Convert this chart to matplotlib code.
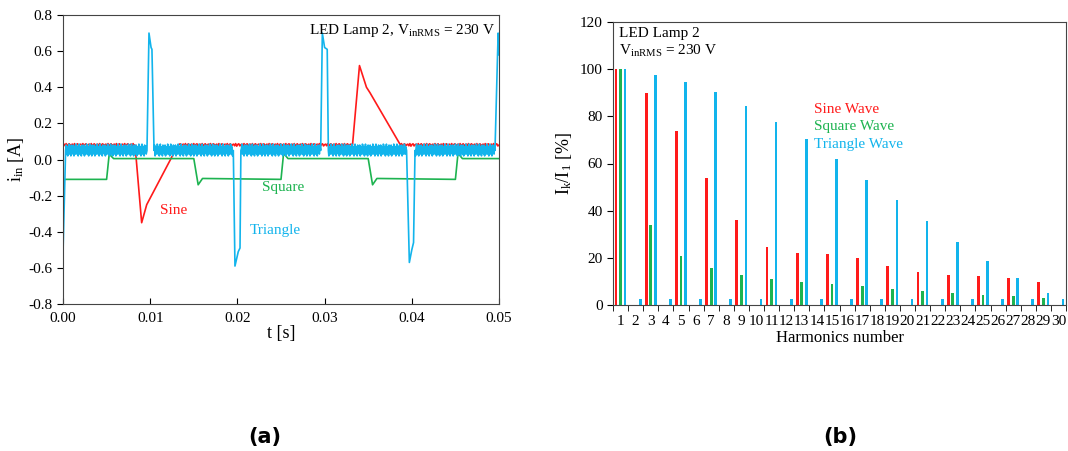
import numpy as np
import matplotlib
matplotlib.use("Agg")
import matplotlib.pyplot as plt

plt.rcParams['font.family'] = ['Liberation Serif', 'DejaVu Serif']
plt.rcParams['mathtext.fontset'] = 'custom'
plt.rcParams['mathtext.rm'] = 'Liberation Serif'
plt.rcParams['mathtext.it'] = 'Liberation Serif'

RED = '#ff1a1a'
GREEN = '#1db350'
BLUE = '#12b4ec'

# --- (a) input current waveforms, breakpoints ---
sine_t = [0.0, 0.00826, 0.00902, 0.0096, 0.0132, 0.0332, 0.0340, 0.0348, 0.0352, 0.0387, 0.05]
sine_i = [0.08, 0.08, -0.35, -0.25, 0.08, 0.08, 0.52, 0.40, 0.37, 0.08, 0.08]

square_t = [0.0, 0.0050, 0.0053, 0.0058, 0.0150, 0.0155, 0.0160, 0.0250, 0.0253, 0.0258,
            0.0350, 0.0355, 0.0360, 0.0450, 0.0453, 0.0458, 0.05]
square_i = [-0.11, -0.11, 0.03, 0.005, 0.005, -0.14, -0.105, -0.11, 0.035, 0.005,
            0.005, -0.14, -0.105, -0.11, 0.035, 0.005, 0.005]

tri_t = [0.0, 0.0003, 0.00963, 0.00986, 0.0101, 0.0102, 0.01044, 0.01953, 0.01972, 0.0201,
         0.0203, 0.0204, 0.02955, 0.02974, 0.0300, 0.0303, 0.03043, 0.0394, 0.03972, 0.0400,
         0.0402, 0.04037, 0.04954, 0.0499, 0.05]
tri_i = [-0.52, 0.05, 0.05, 0.70, 0.62, 0.61, 0.05, 0.05, -0.59, -0.51,
         -0.49, 0.05, 0.05, 0.70, 0.62, 0.61, 0.05, 0.05, -0.57, -0.50,
         -0.46, 0.05, 0.05, 0.70, 0.58]

# baseline ripple texture (hand typed)
tri_ripple = [0.03, -0.02, 0.02, -0.03, 0.01, 0.035, -0.02, 0.0, 0.02, -0.03,
              0.03, -0.01, 0.025, -0.02, 0.03, -0.03, 0.01, 0.02, -0.02, 0.035]
sine_ripple = [0.005, -0.004, 0.008, -0.006, 0.003, 0.007, -0.005, 0.002]

# --- (b) harmonic spectra ---
harmonics = list(range(1, 31))
sine_pct = [100, 0, 89.7, 0, 73.6, 0, 53.8, 0, 36.0, 0, 24.6, 0, 21.9, 0, 21.6,
            0, 20.0, 0, 16.7, 0, 13.8, 0, 12.7, 0, 12.3, 0, 11.3, 0, 9.7, 0]
square_pct = [100, 0, 33.9, 0, 20.8, 0, 15.5, 0, 12.7, 0, 10.9, 0, 9.7, 0, 8.8,
              0, 7.9, 0, 6.9, 0, 5.9, 0, 5.2, 0, 4.4, 0, 3.7, 0, 3.0, 0]
tri_pct = [100, 2.7, 97.7, 2.7, 94.6, 2.7, 90.3, 2.7, 84.5, 2.7, 77.8, 2.7, 70.2, 2.7, 61.7,
           2.7, 53.0, 2.7, 44.4, 2.7, 35.5, 2.7, 26.8, 2.7, 18.8, 2.7, 11.3, 2.7, 4.9, 2.7]


def add_ripple(t, i, ripple, base, step):
    # densify flat baseline segments and lay the ripple texture on them
    out_t, out_i = [], []
    k = 0
    for a in range(len(t) - 1):
        out_t.append(t[a]); out_i.append(i[a])
        if i[a] == base and i[a + 1] == base:
            for tt in np.arange(t[a] + step, t[a + 1] - step / 2, step):
                out_t.append(tt)
                out_i.append(base + ripple[k % len(ripple)])
                k += 1
    out_t.append(t[-1]); out_i.append(i[-1])
    return out_t, out_i


fig = plt.figure(figsize=(10.68, 4.51), dpi=100)
ax1 = fig.add_axes([63 / 1068, 1 - 304 / 451, 436 / 1068, 289 / 451])
ax2 = fig.add_axes([613 / 1068, 1 - 305 / 451, 453 / 1068, 283 / 451])

st, si = add_ripple(sine_t, sine_i, sine_ripple, 0.08, 0.00012)
tt, ti = add_ripple(tri_t, tri_i, tri_ripple, 0.05, 0.00006)
ax1.plot(st, si, color=RED, lw=1.2)
ax1.plot(square_t, square_i, color=GREEN, lw=1.2)
ax1.plot(tt, ti, color=BLUE, lw=1.2)

ax1.set_xlim(0, 0.05)
ax1.set_ylim(-0.8, 0.8)
ax1.set_xticks(np.arange(0, 0.051, 0.01))
ax1.set_yticks(np.arange(-0.8, 0.81, 0.2))
ax1.set_xticklabels(['0.00', '0.01', '0.02', '0.03', '0.04', '0.05'])
ax1.set_yticklabels(['-0.8', '-0.6', '-0.4', '-0.2', '0.0', '0.2', '0.4', '0.6', '0.8'])
ax1.tick_params(axis='x', direction='in', length=4, labelsize=11, pad=6)
ax1.tick_params(axis='y', direction='out', length=4, labelsize=11)
ax1.set_xlabel('t [s]', fontsize=13, labelpad=0)
ax1.set_ylabel(r'i$_{\mathrm{in}}$ [A]', fontsize=13, labelpad=2)
ax1.text(0.0496, 0.76, r'LED Lamp 2, V$_{\mathrm{inRMS}}$ = 230 V', ha='right', va='top', fontsize=11)
ax1.text(0.0111, -0.28, 'Sine', color=RED, fontsize=11, va='center')
ax1.text(0.0228, -0.155, 'Square', color=GREEN, fontsize=11, va='center')
ax1.text(0.0214, -0.395, 'Triangle', color=BLUE, fontsize=11, va='center')
for sp in ax1.spines.values():
    sp.set_color('#444444')

x = np.array(harmonics)
bw = 0.18
ax2.bar(x - 0.3, sine_pct, width=bw, color=RED)
ax2.bar(x, square_pct, width=bw, color=GREEN)
ax2.bar(x + 0.3, tri_pct, width=bw, color=BLUE)
ax2.set_xlim(0.5, 30.5)
ax2.set_ylim(0, 120)
ax2.set_yticks(range(0, 121, 20))
ax2.set_xticks(harmonics)
ax2.set_xticklabels([str(h) for h in harmonics])
ax2.set_xticks(np.arange(0.5, 31, 1), minor=True)
ax2.tick_params(axis='x', which='major', length=0, labelsize=11, pad=7)
ax2.tick_params(axis='x', which='minor', direction='out', length=4)
ax2.tick_params(axis='y', direction='out', length=4, labelsize=11)
ax2.set_xlabel('Harmonics number', fontsize=12, labelpad=2)
ax2.set_ylabel(r'I$_{\mathrm{k}}$/I$_{1}$ [%]', fontsize=13, labelpad=4)
ax2.text(0.9, 118, 'LED Lamp 2', ha='left', va='top', fontsize=11)
ax2.text(0.9, 111, r'V$_{\mathrm{inRMS}}$ = 230 V', ha='left', va='top', fontsize=11)
ax2.text(13.8, 83, 'Sine Wave', color=RED, fontsize=11, va='center')
ax2.text(13.8, 75.5, 'Square Wave', color=GREEN, fontsize=11, va='center')
ax2.text(13.8, 68, 'Triangle Wave', color=BLUE, fontsize=11, va='center')
for sp in ax2.spines.values():
    sp.set_color('#444444')

fig.text(265 / 1068, 1 - 437 / 451, '(a)', fontsize=15, fontweight='bold',
         family='DejaVu Sans', ha='center', va='center')
fig.text(840 / 1068, 1 - 437 / 451, '(b)', fontsize=15, fontweight='bold',
         family='DejaVu Sans', ha='center', va='center')

fig.savefig('out.png', dpi=100)
